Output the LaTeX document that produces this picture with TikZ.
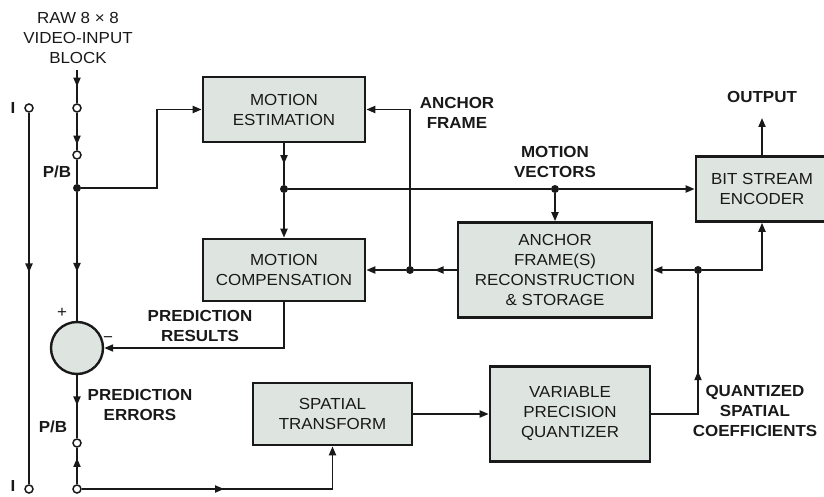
\documentclass[tikz,border=0pt]{standalone}
\usepackage{fontspec}
\setmainfont{Liberation Sans}[FakeStretch=1.06]
\usetikzlibrary{arrows.meta,decorations.markings}
\definecolor{lineColor}{RGB}{25,25,25}
\definecolor{boxBg}{RGB}{222,229,225}

\begin{document}
\begin{tikzpicture}[
  x=1pt, y=-1pt,
  box/.style={draw=lineColor, fill=boxBg, line width=2.6pt, align=center, inner sep=0pt, text=lineColor, font=\fontsize{16}{20}\selectfont},
  lbl/.style={font=\fontsize{16}{20}\selectfont\bfseries, text=lineColor, align=center},
  term/.style={circle, draw=lineColor, fill=white, minimum size=8pt, inner sep=0pt, line width=1.5pt},
  dot/.style={circle, fill=lineColor, minimum size=8pt, inner sep=0pt},
  wire/.style={line width=1.9pt, color=lineColor},
  arrow/.style={wire, -{Triangle[length=9pt,width=7pt]}},
  midarrow/.style={wire, postaction={decorate}, decoration={markings, mark=at position #1 with {\arrow{Triangle[length=9pt,width=7pt]}}}}
]
\useasboundingbox (0,0) rectangle (824,497);

% Blocks
\node[box, minimum width=162pt, minimum height=65pt] (me) at (284,109.5) {MOTION\\ESTIMATION};
\node[box, minimum width=162pt, minimum height=62pt] (mc) at (284,270) {MOTION\\COMPENSATION};
\node[box, minimum width=194pt, minimum height=95pt] (afrs) at (555,270) {ANCHOR\\FRAME(S)\\RECONSTRUCTION\\\& STORAGE};
\node[box, minimum width=132pt, minimum height=65pt] (bse) at (762,189) {BIT STREAM\\ENCODER};
\node[box, minimum width=159pt, minimum height=62pt] (st) at (332.5,414) {SPATIAL\\TRANSFORM};
\node[box, minimum width=160pt, minimum height=95pt] (vpq) at (570,414) {VARIABLE\\PRECISION\\QUANTIZER};
\node[circle, draw=lineColor, fill=boxBg, line width=2.4pt, minimum size=52pt] (sum) at (77,348) {};

% Switch terminals
\node[term] (tin) at (77,108) {};
\node[term] (tpb) at (77,155) {};
\node[term] (terr) at (77,443) {};
\node[term] (tsel) at (77,489) {};
\node[term] (tia) at (29,108) {};
\node[term] (tib) at (29,489) {};

% Junctions
\node[dot] (jin) at (77,188) {};
\node[dot] (jme) at (284,189) {};
\node[dot] (jmv) at (555,189) {};
\node[dot] (jaf) at (410,270) {};
\node[dot] (jq) at (698,270) {};

\coordinate (rawin) at (77,70);
\coordinate (mebend) at (157,109.5);
\coordinate (afbend) at (410,109.5);
\coordinate (outtip) at (762,118);
\coordinate (prbend) at (284,348);
\coordinate (stbend) at (332.5,489);
\coordinate (qbend) at (698,414);
\coordinate (bsebend) at (762,270);

% Input path
\draw[midarrow=0.5] (rawin) -- (tin);
\draw[midarrow=0.85] (tin) -- (tpb);
\draw[wire] (tpb) -- (jin);
\draw[arrow] (jin) -| (mebend) -- (me.west);
\draw[midarrow=0.62] (jin) -- (sum);
\draw[midarrow=0.48] (sum) -- (terr);
\draw[midarrow=0.72] (tsel) -- (terr);
\draw[arrow, midarrow=0.485] (tsel) -- (stbend) -- (st.south);
\draw[midarrow=0.43] (tia) -- (tib);

% Motion loop
\draw[midarrow=0.5] (me) -- (jme);
\draw[arrow] (jme) -- (mc);
\draw[wire] (jme) -- (jmv);
\draw[arrow] (jmv) -- (bse);
\draw[arrow] (jmv) -- (afrs);
\draw[midarrow=0.52] (afrs) -- (jaf);
\draw[arrow] (jaf) -- (mc);
\draw[arrow] (jaf) -- (afbend) -- (me.east);
\draw[arrow] (jq) -- (afrs);
\draw[arrow] (jq) -- (bsebend) -- (bse.south);
\draw[arrow] (bse) -- (outtip);
\draw[arrow] (mc) -- (prbend) -- (sum);

% Spatial path
\draw[arrow] (st) -- (vpq);
\draw[midarrow=0.48] (vpq) -- (qbend) -- (jq);

% Labels
\node[lbl, font=\fontsize{16}{20}\selectfont] (rawlbl) at (78,38) {RAW 8 × 8\\VIDEO-INPUT\\BLOCK};
\node[lbl] (ilbla) at (13,108) {I};
\node[lbl] (ilblb) at (13,486) {I};
\node[lbl] (pblbla) at (57,172) {P/B};
\node[lbl] (pblblb) at (53,427) {P/B};
\node[lbl, font=\fontsize{16}{20}\selectfont] (plus) at (62,313) {+};
\node[lbl, font=\fontsize{16}{20}\selectfont] (minus) at (108,340) {−};
\node[lbl] (prlbl) at (200,326) {PREDICTION\\RESULTS};
\node[lbl] (pelbl) at (140,405) {PREDICTION\\ERRORS};
\node[lbl] (aflbl) at (457,113) {ANCHOR\\FRAME};
\node[lbl] (mvlbl) at (555,162) {MOTION\\VECTORS};
\node[lbl] (outlbl) at (762,97) {OUTPUT};
\node[lbl] (qlbl) at (755,411) {QUANTIZED\\SPATIAL\\COEFFICIENTS};
\end{tikzpicture}
\end{document}
